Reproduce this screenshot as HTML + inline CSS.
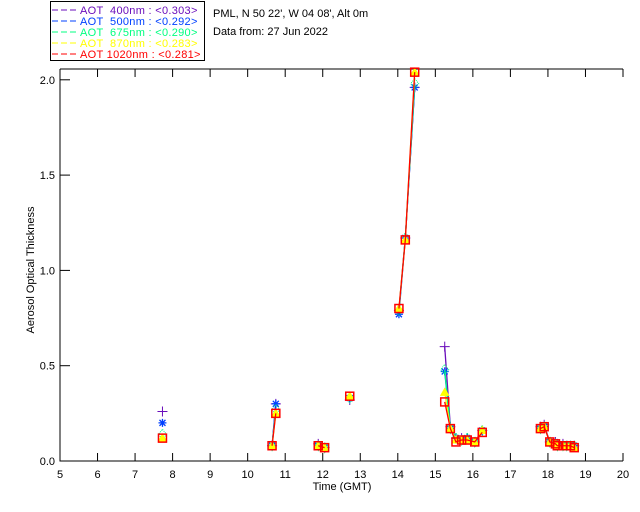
<!DOCTYPE html>
<html><head><meta charset="utf-8"><style>
body{margin:0;background:#fff;width:640px;height:512px;overflow:hidden}
svg{display:block}
text{font-family:"Liberation Sans",sans-serif;font-size:11px}
</style></head><body>
<svg id="chart" width="640" height="512">
<g id="legend">
<rect x="50.5" y="1.5" width="154" height="59" fill="#fff" stroke="#000"/>
</g>
<text x="213" y="17">PML, N 50 22', W 04 08', Alt 0m</text>
<text x="213" y="35">Data from: 27 Jun 2022</text>
<g id="axes"></g>
<g id="series"></g>
<text x="342" y="490" text-anchor="middle">Time (GMT)</text>
<text transform="translate(34,270) rotate(-90)" text-anchor="middle">Aerosol Optical Thickness</text>
</svg>
<script>
const times=[7.73,10.65,10.75,11.88,12.05,12.72,14.03,14.2,14.45,15.25,15.4,15.55,15.7,15.85,16.05,16.25,17.8,17.9,18.05,18.2,18.25,18.4,18.5,18.6,18.7];
const aot400=[0.26,0.08,0.30,0.09,0.07,0.32,0.79,1.17,1.96,0.60,0.18,0.12,0.12,0.12,0.10,0.16,0.18,0.19,0.10,0.10,0.09,0.09,0.08,0.08,0.08];
const aot500=[0.20,0.08,0.30,0.08,0.07,0.33,0.77,1.17,1.96,0.47,0.17,0.12,0.11,0.12,0.10,0.16,0.17,0.18,0.10,0.09,0.08,0.08,0.08,0.08,0.08];
const aot675=[0.14,0.08,0.27,0.08,0.07,0.33,0.79,1.17,1.98,0.48,0.17,0.12,0.11,0.12,0.10,0.16,0.17,0.18,0.10,0.09,0.08,0.08,0.08,0.08,0.08];
const aot870=[0.12,0.08,0.25,0.08,0.07,0.34,0.80,1.16,2.04,0.36,0.17,0.11,0.11,0.11,0.10,0.16,0.17,0.18,0.10,0.09,0.08,0.08,0.08,0.08,0.07];
const aot1020=[0.12,0.08,0.25,0.08,0.07,0.34,0.80,1.16,2.04,0.31,0.17,0.10,0.11,0.11,0.10,0.15,0.17,0.18,0.10,0.09,0.08,0.08,0.08,0.08,0.07];
const xTicks=[5,6,7,8,9,10,11,12,13,14,15,16,17,18,19,20];
const yTicks=[0,0.5,1.0,1.5,2.0];
const seriesNames=["400nm","500nm","675nm","870nm","1020nm"];
const seriesMeans=["<0.303>","<0.292>","<0.290>","<0.283>","<0.281>"];
const seriesVals=[aot400,aot500,aot675,aot870,aot1020];
const colors=["#6a0dbb","#0040ff","#00ff80","#ffff00","#ff0000"];
const NS="http://www.w3.org/2000/svg";
const X0=60,X1=623,Y0=461,Y1=69;
function xs(h){return X0+(h-5)*(X1-X0)/15;}
function ys(v){return Y0-v*190.6;}
function mk(tag,attrs,parent){const e=document.createElementNS(NS,tag);for(const k in attrs)e.setAttribute(k,attrs[k]);parent.appendChild(e);return e;}
const axes=document.getElementById('axes');
let e;
e=mk('path',{d:`M${X0},${Y1}V${Y0}H${X1}M${X0},${Y1}H${X1}`,stroke:'#000',fill:'none','stroke-width':1},axes);


xTicks.forEach(t=>{const x=xs(t);
 e=mk('path',{d:`M${x},${Y0}v-8M${x},${Y1}v8`,stroke:'#000'},axes);
 
 
 e=mk('text',{x:x,y:Y0+17,'text-anchor':'middle'},axes);e.textContent=t;
 
 });
yTicks.forEach(t=>{const y=ys(t);
 e=mk('path',{d:`M${X0},${y}h10`,stroke:'#000'},axes);
 
 
 e=mk('text',{x:X0-5,y:y+4,'text-anchor':'end'},axes);e.textContent=t.toFixed(1);
 
 });
const leg=document.getElementById('legend');
seriesNames.forEach((n,i)=>{const y=10+i*11;
 e=mk('line',{x1:52,x2:76,y1:y,y2:y,stroke:colors[i],'stroke-dasharray':'6,3'},leg);
 
 
 e=mk('text',{x:80,y:y+4,fill:colors[i],'font-size':'11px','letter-spacing':'0.3px'},leg);
 e.textContent='AOT '+n.padStart(6,'\u00a0')+' : '+seriesMeans[i];
 
 });
const sg=document.getElementById('series');
function marker(i,x,y,c,g){let m;
 if(i===0)m=mk('path',{d:`M${x-5},${y}h10M${x},${y-5}v10`,stroke:c,fill:'none'},g);
 else if(i===1)m=mk('path',{d:`M${x-4},${y}h8M${x},${y-4}v8M${x-3},${y-3}l6,6M${x-3},${y+3}l6,-6`,stroke:c,fill:'none','stroke-width':1.3},g);
 else if(i===2)m=mk('path',{d:`M${x},${y-5}l4,5l-4,5l-4,-5z`,stroke:c,fill:'none','stroke-dasharray':'1,1'},g);
 else if(i===3)m=mk('path',{d:`M${x},${y-4}l4,7h-8z`,stroke:c,fill:c},g);
 else m=mk('rect',{x:x-4,y:y-4,width:8,height:8,stroke:c,fill:'none','stroke-width':1.5},g);
 return m;}
seriesVals.forEach((vals,i)=>{
 const g=mk('g',{},sg);
 
 
 let d='';
 for(let k=0;k<times.length;k++){
  const x=xs(times[k]),y=ys(vals[k]);
  if(k>0&&times[k]-times[k-1]<0.5)d+=`L${x},${y}`;else d+=`M${x},${y}`;
 }
 const p=mk('path',{d:d,stroke:colors[i],fill:'none','stroke-width':1.3},g);
 
 
 for(let k=0;k<times.length;k++){
  const m=marker(i,xs(times[k]),ys(vals[k]),colors[i],g);
  
  
 }
});
</script>
</body></html>
